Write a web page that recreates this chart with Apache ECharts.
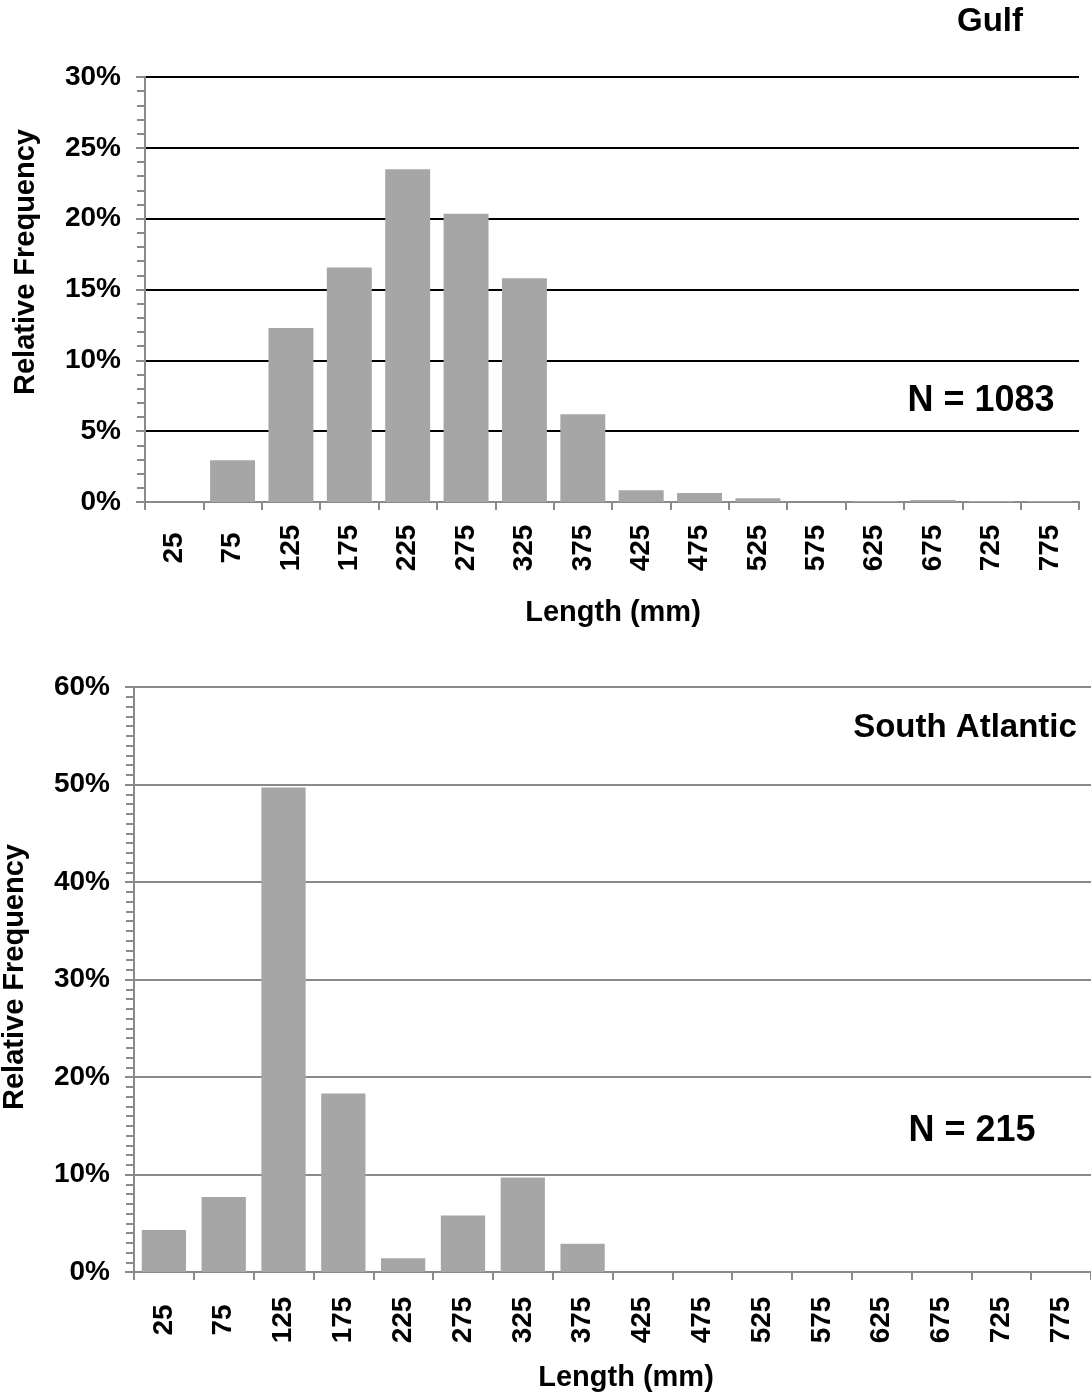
<!DOCTYPE html>
<html>
<head>
<meta charset="utf-8">
<script src="https://cdn.jsdelivr.net/npm/echarts@6/dist/echarts.min.js"></script>
<style>
html,body{margin:0;padding:0;background:#fff;}
#chart{width:1091px;height:1399px;}
</style>
</head>
<body>
<div id="chart"></div>
<script>
const categories = ['25','75','125','175','225','275','325','375','425','475','525','575','625','675','725','775'];
const gulfValues = [0, 2.94, 12.28, 16.56, 23.48, 20.35, 15.79, 6.19, 0.83, 0.64, 0.26, 0, 0.07, 0.14, 0.07, 0.07];
const southAtlanticValues = [4.3, 7.7, 49.7, 18.3, 1.4, 5.8, 9.7, 2.9, 0, 0, 0, 0, 0, 0, 0, 0];
const gulfAxis = {min: 0, max: 30, interval: 5};
const saAxis = {min: 0, max: 60, interval: 10};
const gulfTitle = 'Gulf';
const saTitle = 'South Atlantic';
const gulfN = 'N = 1083';
const saN = 'N = 215';
const xName = 'Length (mm)';
const yName = 'Relative Frequency';

const FONT = '"Liberation Sans", Arial, Helvetica, sans-serif';
const axisGray = '#8a8a8a';
const barColor = '#a6a6a6';

function xAxisCfg(gridIndex, margin) {
  return {
    type: 'category', gridIndex: gridIndex, data: categories, boundaryGap: true,
    axisLine: {show: true, lineStyle: {color: axisGray, width: 2}},
    axisTick: {show: true, alignWithLabel: false, interval: 0, length: 8, lineStyle: {color: axisGray, width: 2}},
    axisLabel: {interval: 0, rotate: 90, margin: margin, align: 'center', verticalAlign: 'middle',
                color: '#000', fontFamily: FONT, fontWeight: 'bold', fontSize: 28},
    splitLine: {show: false}
  };
}
function yAxisCfg(gridIndex, ax, splitColor, minorSplit, margin) {
  return {
    type: 'value', gridIndex: gridIndex, min: ax.min, max: ax.max, interval: ax.interval,
    axisLine: {show: true, lineStyle: {color: axisGray, width: 2}},
    axisTick: {show: true, inside: false, length: 9, lineStyle: {color: axisGray, width: 2}},
    minorTick: {show: true, splitNumber: minorSplit, length: 8, lineStyle: {color: axisGray, width: 2}},
    axisLabel: {formatter: '{value}%', margin: margin, color: '#000', fontFamily: FONT, fontWeight: 'bold', fontSize: 28},
    splitLine: {show: true, lineStyle: {color: splitColor, width: 2}}
  };
}

const chart = echarts.init(document.getElementById('chart'), null, {renderer: 'canvas'});
const textStyleBig = (txt, x, y, size) => ({
  type: 'text', x: x, y: y,
  style: {text: txt, font: 'bold ' + size + 'px ' + FONT, fill: '#000', textAlign: 'center', textVerticalAlign: 'middle'}
});
chart.setOption({
  animation: false,
  backgroundColor: '#fff',
  grid: [
    {left: 145, top: 77, width: 934, height: 425},
    {left: 134, top: 687, width: 957, height: 585}
  ],
  xAxis: [xAxisCfg(0, 46), xAxisCfg(1, 48)],
  yAxis: [yAxisCfg(0, gulfAxis, '#000', 5, 24), yAxisCfg(1, saAxis, axisGray, 10, 24)],
  series: [
    {type: 'bar', xAxisIndex: 0, yAxisIndex: 0, data: gulfValues, barCategoryGap: '23%',
     itemStyle: {color: barColor}},
    {type: 'bar', xAxisIndex: 1, yAxisIndex: 1, data: southAtlanticValues, barCategoryGap: '26%',
     itemStyle: {color: barColor}}
  ],
  graphic: [
    textStyleBig(gulfTitle, 990, 22, 33),
    textStyleBig(saTitle, 965, 728, 33),
    textStyleBig(gulfN, 981, 401, 36),
    textStyleBig(saN, 972, 1131, 36),
    textStyleBig(xName, 613, 613, 29),
    textStyleBig(xName, 626, 1378, 29),
    Object.assign(textStyleBig(yName, 26, 262, 29), {rotation: Math.PI / 2}),
    Object.assign(textStyleBig(yName, 15, 977, 29), {rotation: Math.PI / 2})
  ]
});
</script>
</body>
</html>
